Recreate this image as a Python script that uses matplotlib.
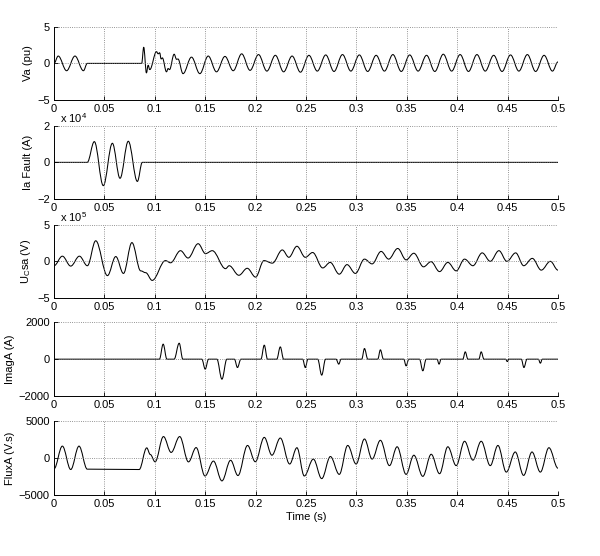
import numpy as np
import matplotlib
matplotlib.use("Agg")
import matplotlib.pyplot as plt
from matplotlib.path import Path
from matplotlib.patches import PathPatch

plt.rcParams['font.family'] = ['Liberation Sans', 'DejaVu Sans']
plt.rcParams['mathtext.fontset'] = 'custom'
plt.rcParams['mathtext.rm'] = 'Liberation Sans'
plt.rcParams['mathtext.it'] = 'Liberation Sans:italic'

# turning points of each trace (time in ms)
va_t_ms = [0, 4.2, 12.5, 20.8, 29.2, 33,
           87, 89, 91.7, 93.4, 95, 101.7, 103.3, 104.8, 106.3, 107.5,
           111.6, 113.2, 114.6, 119.2, 121.6, 123,
           128, 136.4, 144.7, 153, 161.2, 169.6, 177.8, 186.2, 194.5, 202.9,
           211.2, 219.6, 227.8, 236.2, 244.5, 252.9, 261.2, 269.6, 277.8, 286.2,
           294.5, 302.9, 311.2, 319.6, 327.8, 336.2, 344.5, 352.9, 361.2, 369.6,
           377.8, 386.2, 394.5, 402.9, 411.2, 419.6, 427.8, 436.2, 444.5, 452.9,
           461.2, 469.6, 477.8, 486.2, 494.5, 500]
va_pu = [0, 1.0, -1.0, 1.0, -1.0, 0,
         0, 2.2, -1.3, -0.25, -0.85, 1.6, 1.3, 1.45, 0.6, 0.75,
         -1.15, -0.7, -0.85, 1.25, 0.55, 0.6,
         -1.4, 0.85, -1.4, 1.0, -1.15, 0.95, -1.0, 1.3, -0.95, 1.2,
         -1.05, 1.1, -1.15, 1.0, -1.2, 1.1, -1.05, 1.15, -1.1, 1.2,
         -1.05, 1.15, -1.1, 1.1, -1.05, 1.2, -1.1, 1.15, -1.05, 1.1,
         -1.1, 1.25, -1.05, 1.2, -1.1, 1.2, -1.05, 1.1, -1.1, 1.15,
         -1.05, 1.2, -1.1, 1.1, -1.05, 0.2]

ia_t_ms = [0, 33, 40, 48.9, 57.9, 65.5, 73.7, 82.7, 87.6, 500]
ia_fault_x1e4 = [0, 0, 1.13, -1.27, 1.04, -0.87, 1.15, -1.04, 0, 0]

ucsa_t_ms = [0, 8.3, 16.6, 25.2, 33.1, 41.4, 53, 61.3, 68.9, 77.3,
             86, 91, 97.4, 110.6, 115.6, 125.5, 133, 143, 150.3, 157,
             170.2, 173.8, 183.4, 191.7, 200, 208.3, 216.6, 226.5, 233, 241,
             249.3, 256.6, 266.6, 274, 283, 290.7, 299, 308, 315.6, 324.5,
             332, 341, 349.3, 357, 366.6, 374, 382.5, 390.7, 399, 407.3,
             415.6, 424.8, 432.8, 441.4, 449.3, 458, 466, 474.5, 483.4, 492.4,
             500]
ucsa_x1e5 = [-0.6, 0.7, -0.65, 0.7, -0.6, 2.8, -1.95, 0.65, -1.65, 2.55,
             -1.3, -1.55, -2.6, 0.1, -0.2, 1.45, 0.45, 2.4, 1.05, 1.45,
             -1.0, -0.6, -1.9, -0.95, -2.15, 0.1, -0.25, 1.55, 0.55, 2.05,
             0.55, 1.2, -0.9, -0.15, -1.75, -0.45, -1.65, 0.3, -0.35, 1.35,
             0.3, 1.75, 0.2, 1.1, -0.75, -0.05, -1.4, -0.15, -1.3, 0.3,
             -0.6, 1.15, 0, 1.45, 0, 1.15, -0.6, 0.4, -1.2, 0,
             -1.2]

imag_t_ms = [0,
             104.6, 108.3, 112, 119.2, 124.2, 127.8,
             146.7, 150, 153.3, 161.6, 166.6, 171.5, 179, 182, 185.4,
             205.3, 208.6, 211.8, 221, 224.5, 227.8,
             246.7, 249.3, 251.9, 261.6, 265.6, 269.4, 279.8, 282.5, 284.8,
             305.3, 308, 311.3, 321.2, 323.8, 326.8,
             347, 349.3, 352, 362.6, 365.9, 369.2, 380, 382, 384,
             405.6, 408, 410.6, 421.5, 423.8, 426.5,
             448, 449.7, 451.3, 463.6, 466.2, 469.2, 480.5, 482.5, 484.4,
             500]
imag_a = [0,
          0, 820, 0, 0, 870, 0,
          0, -545, 0, 0, -1090, 0, 0, -455, 0,
          0, 765, 0, 0, 670, 0,
          0, -455, 0, 0, -870, 0, 0, -270, 0,
          0, 580, 0, 0, 510, 0,
          0, -365, 0, 0, -635, 0, 0, -270, 0,
          0, 400, 0, 0, 400, 0,
          0, -130, 0, 0, -455, 0, 0, -220, 0,
          0]

flux_t_ms = [0, 8.3, 16.6, 24.8, 33, 84.5, 92, 95.5, 100.3, 108.6,
             116.2, 124.7, 133.4, 141, 149.8, 158.2, 166.6, 175.2, 182.5, 192,
             199.7, 208.6, 216.2, 224.5, 233.8, 241, 248.3, 257.3, 265.6, 274.2,
             283, 291.4, 299.7, 308, 315.6, 323.8, 332.8, 340.4, 349.3, 357,
             365.9, 374.2, 382.5, 390.7, 399, 407.3, 415.6, 423.8, 432.8, 440.4,
             448.7, 457.6, 465.9, 474.2, 482.5, 491, 500]
flux_a = [-1460, 1640, -1550, 1640, -1500, -1550, 1400, 500, -500, 2940,
          780, 2940, -510, 1440, -2430, -400, -3100, -290, -2370, 1730,
          -490, 2830, 400, 2740, -800, 1420, -2430, -130, -2790, 220,
          -2210, 1730, -800, 2610, -130, 2430, -1020, 1550, -2210, 400,
          -2480, 530, -2120, 1550, -1020, 2300, -270, 2300, -1020, 1730,
          -1900, 840, -2350, 840, -1900, 1420, -1370]

x_ticks = [0, 0.05, 0.1, 0.15, 0.2, 0.25, 0.3, 0.35, 0.4, 0.45, 0.5]
x_labels = ['0', '0.05', '0.1', '0.15', '0.2', '0.25', '0.3', '0.35', '0.4', '0.45', '0.5']


def trace(ax, t_ms, vals):
    # smooth curve through the turning points (flat tangent at each one)
    t = np.asarray(t_ms, float) / 1000.0
    v = np.asarray(vals, float)
    assert len(t) == len(v)
    verts = [(t[0], v[0])]
    codes = [Path.MOVETO]
    for i in range(len(t) - 1):
        dt = t[i + 1] - t[i]
        verts += [(t[i] + 0.3642 * dt, v[i]), (t[i + 1] - 0.3642 * dt, v[i + 1]),
                  (t[i + 1], v[i + 1])]
        codes += [Path.CURVE4] * 3
    ax.add_patch(PathPatch(Path(verts, codes), fill=False, edgecolor='black',
                           lw=0.75, joinstyle='round', capstyle='round'))


fig = plt.figure(figsize=(6, 5.56), dpi=100)
bottoms = [0.820, 0.642, 0.464, 0.288, 0.110]
panels = [
    (va_t_ms, va_pu, 5, [-5, 0, 5], ['\u22125', '0', '5'], 'Va (pu)'),
    (ia_t_ms, ia_fault_x1e4, 2, [-2, 0, 2], ['\u22122', '0', '2'], 'Ia Fault (A)'),
    (ucsa_t_ms, ucsa_x1e5, 5, [-5, 0, 5], ['\u22125', '0', '5'], 'U$_\\mathrm{C}$sa (V)'),
    (imag_t_ms, imag_a, 2000, [-2000, 0, 2000], ['\u22122000', '0', '2000'], 'ImagA (A)'),
    (flux_t_ms, flux_a, 5000, [-5000, 0, 5000], ['\u22125000', '0', '5000'], 'FluxA (V.s)'),
]

axes = []
for b, (t, v, lim, yt, yl, name) in zip(bottoms, panels):
    ax = fig.add_axes([0.09, b, 0.84, 0.132])
    trace(ax, t, v)
    ax.set_xlim(0, 0.5)
    ax.set_ylim(-lim, lim)
    ax.set_xticks(x_ticks)
    ax.set_xticklabels(x_labels)
    ax.set_yticks(yt)
    ax.set_yticklabels(yl)
    ax.set_ylabel(name, fontsize=8, labelpad=3)
    ax.grid(True, linestyle=':', color='0.45', linewidth=0.6)
    ax.tick_params(direction='in', length=3, width=0.6, labelsize=8, pad=3)
    ax.spines['top'].set_visible(False)
    ax.spines['right'].set_visible(False)
    for s in ('left', 'bottom'):
        ax.spines[s].set_linewidth(0.7)
    axes.append(ax)

# exponent labels sit just above the axes, tucked next to the tick label above
axes[1].text(0.012, 1.03, r'x 10$^{4}$', transform=axes[1].transAxes, fontsize=8, va='baseline')
axes[2].text(0.012, 1.03, r'x 10$^{5}$', transform=axes[2].transAxes, fontsize=8, va='baseline')
axes[4].set_xlabel('Time (s)', fontsize=8, labelpad=2)

fig.savefig('out.png', dpi=100)
